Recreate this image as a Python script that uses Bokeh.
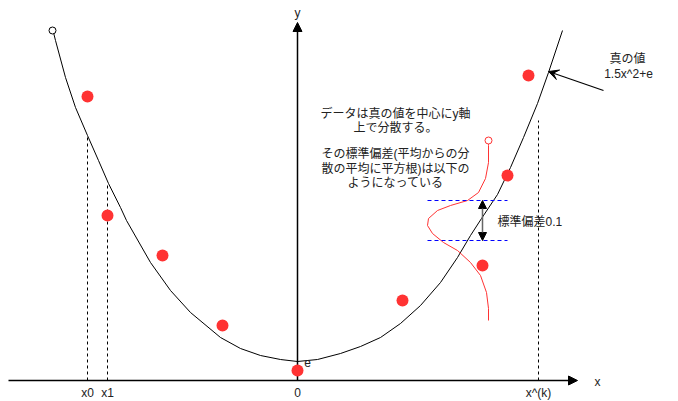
from bokeh.plotting import figure
from bokeh.models import Range1d, Arrow, NormalHead, VeeHead
from bokeh.core.properties import value
from bokeh.embed import file_html
from bokeh.resources import INLINE

# ---- data (diagram units: origin at axes crossing) ----
curve_x = [-244, -242, -232, -222, -210, -199, -189, -177, -171, -147, -127, -107, -77, -57, -37, -17, 0,
           20, 43, 63, 83, 103, 123, 143, 160, 173, 184, 200, 213, 226, 240, 251, 265]
curve_y = [348, 340, 303, 273, 245, 220, 197, 173, 160, 118, 90, 68, 43, 32, 25, 21, 19,
           21, 27, 34, 43, 57, 75, 98, 123, 145, 162, 186, 213, 243, 277, 308, 350]
curve_start = (-245, 350)

pts_x = [-210, -190, -135, -75, 0, 105, 185, 210, 231]
pts_y = [284, 165, 125, 55, 10, 80, 115, 205, 305]

gauss_x = [191, 191, 191, 188, 181, 170, 153, 140, 131, 130, 135, 146, 160, 173, 183, 189, 191, 191]
gauss_y = [240, 235, 218, 202, 188, 180, 175, 170, 162, 155, 147, 138, 130, 118, 105, 88, 72, 60]

sd_levels = [180, 140]
sd_span = [130, 210]
sd_arrow_x = 185

tick_pos = [-210, -190, 0, 241]
tick_labels = ["x0", "x1", "0", "x^(k)"]
tick_top = [245, 197, 0, 260]

text_lines = ["データは真の値を中心にy軸", "上で分散する。", "その標準偏差(平均からの分",
              "散の平均に平方根)は以下の", "ようになっている"]
text_y = [267, 253, 227, 212, 198]

FONT = "Liberation Sans, Noto Sans CJK JP"
RED = "#ff3333"

p = figure(width=678, height=401, output_backend="svg", toolbar_location=None,
           x_range=Range1d(-297, 381), y_range=Range1d(-21, 380),
           min_border=0, outline_line_color=None)
p.axis.visible = False
p.grid.visible = False
p.background_fill_color = "white"

# axes
p.add_layout(Arrow(end=NormalHead(size=9, fill_color="black", line_color="black"),
                   x_start=-289, y_start=0, x_end=280, y_end=0, line_width=1.5,
                   line_color="black", level="underlay"))
p.add_layout(Arrow(end=NormalHead(size=9, fill_color="black", line_color="black"),
                   x_start=0, y_start=0, x_end=0, y_end=358, line_width=1.5,
                   line_color="black", level="underlay"))

# dashed verticals (excluding 0)
for xv, top in zip(tick_pos, tick_top):
    if xv != 0:
        p.segment(x0=xv, y0=0, x1=xv, y1=top, line_color="black", line_dash="3 3", line_width=1)

# true curve
p.line(curve_x, curve_y, line_color="black", line_width=1)
p.scatter([curve_start[0]], [curve_start[1]], size=7, marker="circle",
          fill_color="white", line_color="black", line_width=1)

# data points
p.scatter(pts_x, pts_y, size=12, marker="circle", fill_color=RED, line_color=None)

# gaussian
p.line(gauss_x, gauss_y, line_color=RED, line_width=1)
p.scatter([gauss_x[0]], [gauss_y[0]], size=7, marker="circle", fill_color="white",
          line_color=RED, line_width=1)

# sd lines
for lv in sd_levels:
    p.segment(x0=sd_span[0], y0=lv, x1=sd_span[1], y1=lv, line_color="#0000ff",
              line_dash="4 3", line_width=1)
p.add_layout(Arrow(start=NormalHead(size=8, fill_color="black", line_color="black"),
                   end=NormalHead(size=8, fill_color="black", line_color="black"),
                   x_start=sd_arrow_x, y_start=sd_levels[1], x_end=sd_arrow_x, y_end=sd_levels[0],
                   line_width=1.5, line_color="#666666"))
p.text(x=[200], y=[159], text=["標準偏差0.1"], text_font=value(FONT), text_font_size="12px",
       text_align="left", text_baseline="middle", text_color="#222222")

# tick labels
p.text(x=tick_pos, y=[-12] * len(tick_pos), text=tick_labels, text_font=value(FONT),
       text_font_size="12px", text_align="center", text_baseline="middle", text_color="#222222")
p.text(x=[300, 0, 10], y=[-1, 368, 18], text=["x", "y", "e"], text_font=value(FONT),
       text_font_size="12px", text_align="center", text_baseline="middle", text_color="#222222")

# explanation text
p.text(x=[98] * len(text_lines), y=text_y, text=text_lines, text_font=value(FONT),
       text_font_size="12px", text_align="center", text_baseline="middle", text_color="#222222")

# true value annotation
p.text(x=[330, 331], y=[322, 307], text=["真の値", "1.5x^2+e"], text_font=value(FONT),
       text_font_size="12px", text_align="center", text_baseline="middle", text_color="#222222")
p.add_layout(Arrow(end=VeeHead(size=10, fill_color="black", line_color="black"),
                   x_start=306, y_start=290, x_end=251, y_end=309, line_width=1.2, line_color="black"))

open("out.html", "w").write(file_html(p, INLINE))
